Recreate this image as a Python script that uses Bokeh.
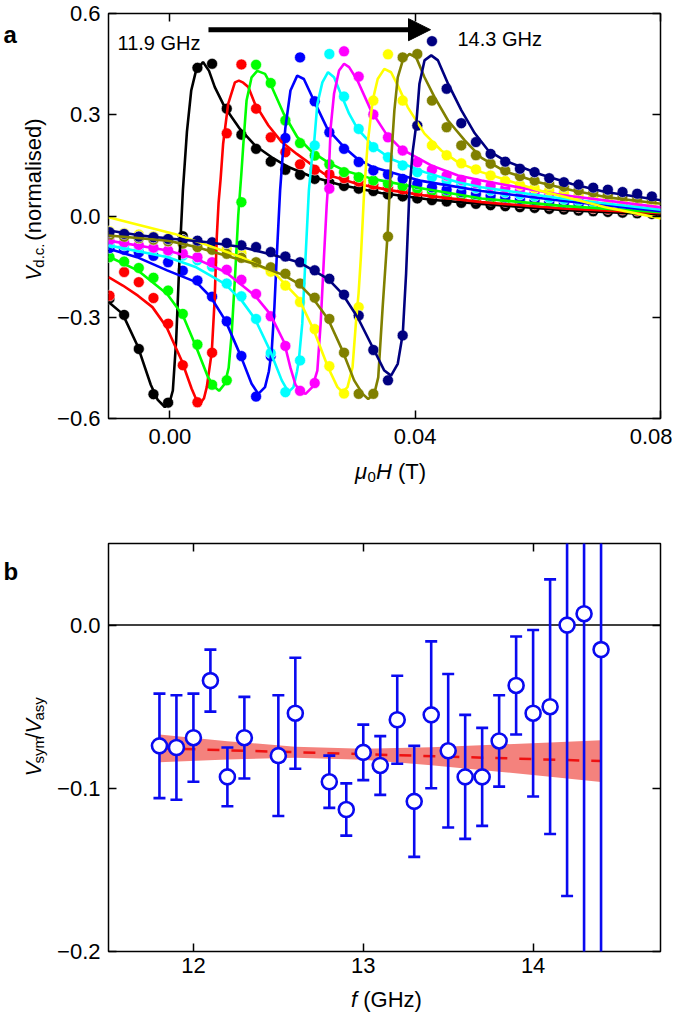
import math
from bokeh.plotting import figure
from bokeh.layouts import column, row
from bokeh.models import (Label, Arrow, NormalHead, LinearAxis, FixedTicker,
                          CustomJSTickFormatter, Range1d, Span)
from bokeh.embed import file_html
from bokeh.resources import INLINE

# ---------------- data: panel a ----------------
FIELD = [-0.00984, -0.00745, -0.00506, -0.00267, -0.00028, 0.00211, 0.00450, 0.00689,
         0.00928, 0.01167, 0.01406, 0.01645, 0.01884, 0.02123, 0.02362, 0.02601,
         0.02840, 0.03079, 0.03318, 0.03557, 0.03796, 0.04035, 0.04274, 0.04513,
         0.04752, 0.04991, 0.05230, 0.05469, 0.05708, 0.05947, 0.06186, 0.06425,
         0.06664, 0.06903, 0.07142, 0.07381, 0.07620, 0.07859]

BLACK_V = [-0.245, -0.293, -0.394, -0.528, -0.553, -0.060, 0.439, 0.451, 0.318, 0.241, 0.199,
           0.161, 0.137, 0.122, 0.110, 0.099, 0.089, 0.081, 0.074, 0.064, 0.058, 0.052, 0.047,
           0.043, 0.039, 0.036, 0.032, 0.029, 0.026, 0.024, 0.021, 0.019, 0.016, 0.014, 0.012,
           0.010, 0.008, 0.006]
RED_V = [-0.236, -0.166, -0.196, -0.243, -0.319, -0.442, -0.552, -0.405, 0.245, 0.449, 0.318,
         0.233, 0.189, 0.153, 0.137, 0.124, 0.112, 0.102, 0.093, 0.085, 0.078, 0.071, 0.065,
         0.060, 0.055, 0.050, 0.046, 0.042, 0.038, 0.035, 0.032, 0.029, 0.026, 0.023, 0.021,
         0.019, 0.016, 0.014]
GREEN_V = [-0.122, -0.135, -0.154, -0.183, -0.221, -0.290, -0.381, -0.500, -0.487, 0.041, 0.448,
           0.394, 0.283, 0.216, 0.179, 0.153, 0.130, 0.115, 0.105, 0.096, 0.088, 0.081, 0.074,
           0.068, 0.062, 0.057, 0.052, 0.048, 0.044, 0.040, 0.037, 0.034, 0.031, 0.028, 0.026,
           0.023, 0.021, 0.019]
BLUE_V = [-0.095, -0.100, -0.108, -0.118, -0.137, -0.162, -0.191, -0.239, -0.312, -0.415, -0.535,
          -0.415, 0.231, 0.470, 0.340, 0.248, 0.199, 0.160, 0.135, 0.123, 0.110, 0.095, 0.085,
          0.078, 0.071, 0.065, 0.060, 0.055, 0.050, 0.046, 0.042, 0.039, 0.036, 0.033, 0.030,
          0.028, 0.026, 0.024]
CYAN_V = [-0.083, -0.087, -0.092, -0.098, -0.106, -0.117, -0.131, -0.150, -0.200, -0.238, -0.305,
          -0.406, -0.522, -0.428, 0.209, 0.480, 0.354, 0.258, 0.204, 0.174, 0.150, 0.130, 0.115,
          0.104, 0.093, 0.083, 0.076, 0.070, 0.064, 0.059, 0.054, 0.050, 0.046, 0.042, 0.039,
          0.036, 0.033, 0.031]
MAGENTA_V = [-0.073, -0.079, -0.086, -0.094, -0.102, -0.111, -0.122, -0.137, -0.159, -0.189,
             -0.231, -0.297, -0.385, -0.518, -0.495, 0.081, 0.488, 0.413, 0.301, 0.233, 0.194,
             0.159, 0.137, 0.120, 0.107, 0.097, 0.089, 0.082, 0.076, 0.070, 0.065, 0.060, 0.055,
             0.051, 0.047, 0.043, 0.039, 0.036]
YELLOW_V = [-0.045, -0.050, -0.055, -0.060, -0.066, -0.072, -0.080, -0.088, -0.098, -0.110,
            -0.140, -0.165, -0.206, -0.255, -0.335, -0.445, -0.526, -0.270, 0.342, 0.479, 0.342,
            0.268, 0.209, 0.180, 0.156, 0.138, 0.120, 0.104, 0.092, 0.083, 0.076, 0.069, 0.063,
            0.057, 0.052, 0.047, 0.043, 0.039]
OLIVE_V = [-0.058, -0.062, -0.066, -0.070, -0.075, -0.082, -0.092, -0.100, -0.112, -0.124,
           -0.137, -0.152, -0.171, -0.200, -0.242, -0.305, -0.405, -0.527, -0.527, -0.061, 0.470,
           0.480, 0.342, 0.263, 0.209, 0.180, 0.155, 0.135, 0.118, 0.105, 0.095, 0.087, 0.076,
           0.070, 0.064, 0.059, 0.054, 0.050]
NAVY_V = [-0.048, -0.053, -0.061, -0.063, -0.068, -0.071, -0.073, -0.078, -0.080, -0.087,
          -0.092, -0.107, -0.120, -0.137, -0.161, -0.186, -0.233, -0.295, -0.397, -0.487, -0.354,
          0.268, 0.518, 0.377, 0.275, 0.219, 0.184, 0.161, 0.140, 0.130, 0.112, 0.100, 0.093,
          0.084, 0.078, 0.071, 0.066, 0.058]

# fitted curves (field in T, signal)
BLACK_LH = [-0.0100, -0.00770, -0.00525, -0.00311, -0.00197, -0.00082, 0.0, 0.00049, 0.00103,
            0.00159, 0.00213, 0.00279, 0.00349, 0.00426, 0.00541, 0.00639, 0.00733, 0.00897,
            0.01143, 0.01389, 0.01661, 0.01934, 0.02295, 0.02787, 0.03443, 0.04262, 0.05082,
            0.06393, 0.0803]
BLACK_LV = [-0.255, -0.29, -0.385, -0.50, -0.545, -0.566, -0.55, -0.517, -0.369, -0.122, 0.076,
            0.25, 0.372, 0.43, 0.456, 0.43, 0.382, 0.322, 0.258, 0.209, 0.174, 0.145, 0.118,
            0.092, 0.068, 0.048, 0.036, 0.018, 0.004]
RED_LH = [-0.0100, -0.00766, -0.00520, -0.00284, -0.00054, 0.00192, 0.00356, 0.00438, 0.00492,
          0.00557, 0.00602, 0.00684, 0.00730, 0.00766, 0.00795, 0.00828, 0.00869, 0.00951,
          0.01061, 0.01126, 0.01197, 0.01279, 0.01389, 0.01607, 0.01825, 0.02070, 0.02513,
          0.03061, 0.03607, 0.04152, 0.05082, 0.06393, 0.0803]
RED_LV = [-0.181, -0.206, -0.236, -0.270, -0.329, -0.428, -0.512, -0.547, -0.556, -0.540, -0.507,
          -0.403, -0.250, -0.060, 0.040, 0.110, 0.214, 0.332, 0.396, 0.401, 0.395, 0.382, 0.332,
          0.268, 0.219, 0.184, 0.125, 0.095, 0.076, 0.061, 0.041, 0.022, 0.008]
GREEN_LH = [-0.0100, -0.00525, -0.00044, 0.00213, 0.00431, 0.00623, 0.00733, 0.00803, 0.00897,
            0.00959, 0.01008, 0.01066, 0.01115, 0.01164, 0.01205, 0.01251, 0.01333, 0.01426,
            0.01552, 0.01639, 0.01857, 0.02077, 0.02323, 0.02579, 0.02841, 0.03307, 0.04098,
            0.05082, 0.06393, 0.0803]
GREEN_LV = [-0.120, -0.161, -0.231, -0.295, -0.389, -0.478, -0.507, -0.518, -0.497, -0.450,
            -0.350, -0.170, 0.000, 0.120, 0.230, 0.342, 0.411, 0.430, 0.421, 0.392, 0.303, 0.234,
            0.189, 0.159, 0.135, 0.110, 0.082, 0.052, 0.030, 0.011]
BLUE_LH = [-0.0100, -0.00536, -0.00044, 0.00431, 0.00667, 0.00907, 0.01152, 0.01333, 0.01443,
           0.01552, 0.01615, 0.01661, 0.01705, 0.01743, 0.01798, 0.01836, 0.01885, 0.01967,
           0.02077, 0.02185, 0.02349, 0.02569, 0.02841, 0.03061, 0.03307, 0.04098, 0.05082,
           0.06393, 0.0803]
BLUE_LV = [-0.097, -0.122, -0.161, -0.196, -0.240, -0.310, -0.413, -0.497, -0.527, -0.507, -0.460,
           -0.399, -0.270, -0.122, 0.076, 0.170, 0.263, 0.372, 0.416, 0.406, 0.342, 0.258, 0.204,
           0.169, 0.145, 0.104, 0.074, 0.045, 0.014]
CYAN_LH = [-0.0100, -0.00033, 0.00431, 0.00897, 0.01169, 0.01389, 0.01634, 0.01825, 0.01934,
           0.02016, 0.02074, 0.02103, 0.02159, 0.02213, 0.02267, 0.02311, 0.02349, 0.02405,
           0.02487, 0.02579, 0.02677, 0.02787, 0.02923, 0.03061, 0.03333, 0.03607, 0.04152,
           0.04700, 0.05082, 0.06393, 0.0803]
CYAN_LV = [-0.087, -0.122, -0.152, -0.201, -0.250, -0.305, -0.399, -0.487, -0.522, -0.507, -0.460,
           -0.428, -0.319, -0.122, 0.076, 0.160, 0.209, 0.332, 0.396, 0.426, 0.411, 0.362, 0.303,
           0.258, 0.204, 0.169, 0.130, 0.100, 0.085, 0.052, 0.018]
MAGENTA_LH = [-0.0100, -0.00033, 0.00431, 0.00907, 0.01389, 0.01634, 0.01864, 0.01967, 0.02049,
              0.02131, 0.02213, 0.02323, 0.02405, 0.02459, 0.02513, 0.02557, 0.02590, 0.02623,
              0.02677, 0.02759, 0.02841, 0.02923, 0.03061, 0.03279, 0.03525, 0.03770, 0.04262,
              0.04700, 0.05082, 0.06393, 0.0803]
MAGENTA_LV = [-0.073, -0.102, -0.127, -0.166, -0.236, -0.290, -0.374, -0.450, -0.500, -0.520,
              -0.527, -0.507, -0.458, -0.319, -0.122, 0.030, 0.120, 0.263, 0.362, 0.431, 0.451,
              0.441, 0.401, 0.313, 0.244, 0.199, 0.150, 0.120, 0.105, 0.062, 0.025]
YELLOW_LH = [-0.0100, -0.00470, 0.00077, 0.00623, 0.01169, 0.01716, 0.02103, 0.02349, 0.02579,
             0.02733, 0.02815, 0.02897, 0.02979, 0.03033, 0.03077, 0.03115, 0.03169, 0.03225,
             0.03307, 0.03389, 0.03497, 0.03607, 0.03716, 0.03880, 0.04152, 0.04426, 0.04700,
             0.05082, 0.06011, 0.07103, 0.0803]
YELLOW_LV = [-0.004, -0.028, -0.053, -0.087, -0.122, -0.171, -0.245, -0.339, -0.448, -0.507,
             -0.522, -0.507, -0.448, -0.319, -0.230, -0.122, 0.076, 0.214, 0.342, 0.406, 0.436,
             0.426, 0.387, 0.322, 0.244, 0.194, 0.159, 0.130, 0.076, 0.026, -0.008]
OLIVE_LH = [-0.0100, -0.00033, 0.00431, 0.00907, 0.01389, 0.01864, 0.02103, 0.02339, 0.02579,
            0.02815, 0.03005, 0.03143, 0.03234, 0.03333, 0.03398, 0.03470, 0.03552, 0.03607,
            0.03661, 0.03716, 0.03798, 0.03907, 0.04016, 0.04152, 0.04316, 0.04536, 0.04808,
            0.05082, 0.05464, 0.06011, 0.06557, 0.07103, 0.0803]
OLIVE_LV = [-0.058, -0.073, -0.092, -0.117, -0.142, -0.176, -0.201, -0.245, -0.305, -0.399,
            -0.487, -0.527, -0.542, -0.527, -0.478, -0.270, -0.050, 0.164, 0.313, 0.411, 0.461,
            0.480, 0.470, 0.411, 0.352, 0.283, 0.224, 0.172, 0.132, 0.100, 0.076, 0.056, 0.036]
NAVY_LH = [-0.0100, -0.00470, 0.00077, 0.00623, 0.01169, 0.01716, 0.02103, 0.02579, 0.02815,
           0.03061, 0.03307, 0.03497, 0.03607, 0.03716, 0.03798, 0.03852, 0.03907, 0.03959,
           0.04016, 0.04070, 0.04152, 0.04262, 0.04372, 0.04536, 0.04754, 0.04972, 0.05192,
           0.05464, 0.06011, 0.06557, 0.07103, 0.0803]
NAVY_LV = [-0.043, -0.058, -0.068, -0.078, -0.092, -0.117, -0.137, -0.186, -0.231, -0.300,
           -0.389, -0.458, -0.473, -0.438, -0.349, -0.171, 0.076, 0.190, 0.268, 0.392, 0.461,
           0.476, 0.461, 0.392, 0.313, 0.245, 0.194, 0.164, 0.125, 0.095, 0.071, 0.046]

SERIES_COLORS = ["#000000", "#ff0000", "#00ff00", "#0000ff", "#00ffff",
                 "#ff00ff", "#ffff00", "#808000", "#000080"]
DOTS = [BLACK_V, RED_V, GREEN_V, BLUE_V, CYAN_V, MAGENTA_V, YELLOW_V, OLIVE_V, NAVY_V]
FITS = [(BLACK_LH, BLACK_LV), (RED_LH, RED_LV), (GREEN_LH, GREEN_LV), (BLUE_LH, BLUE_LV),
        (CYAN_LH, CYAN_LV), (MAGENTA_LH, MAGENTA_LV), (YELLOW_LH, YELLOW_LV),
        (OLIVE_LH, OLIVE_LV), (NAVY_LH, NAVY_LV)]

FREQ_LOW_LABEL = "11.9 GHz"
FREQ_HIGH_LABEL = "14.3 GHz"
ARROW_FROM = (0.0063, 0.552)
ARROW_TO = (0.0425, 0.552)

# ---------------- data: panel b ----------------
F_GHZ = [11.8, 11.9, 12.0, 12.1, 12.2, 12.3, 12.5, 12.6, 12.8, 12.9, 13.0, 13.1, 13.2,
         13.3, 13.4, 13.5, 13.6, 13.7, 13.8, 13.9, 14.0, 14.1, 14.2, 14.3, 14.4]
RATIO = [-0.074, -0.075, -0.069, -0.034, -0.093, -0.069, -0.080, -0.054, -0.096, -0.113,
         -0.078, -0.086, -0.058, -0.108, -0.055, -0.077, -0.093, -0.093, -0.071, -0.037,
         -0.054, -0.050, 0.000, 0.007, -0.015]
RATIO_ERR = [0.032, 0.032, 0.027, 0.019, 0.018, 0.025, 0.037, 0.034, 0.016, 0.016, 0.017,
             0.018, 0.027, 0.034, 0.045, 0.047, 0.038, 0.030, 0.028, 0.030, 0.051, 0.078,
             0.166, 0.330, 0.400]
FIT_F = [11.8, 14.4]
FIT_R = [-0.0755, -0.0833]
BAND_F = [11.8, 12.2, 12.6, 13.0, 13.4, 13.8, 14.1, 14.4]
BAND_UP = [-0.0670, -0.0711, -0.0745, -0.0758, -0.0748, -0.0732, -0.0719, -0.0705]
BAND_LO = [-0.0840, -0.0824, -0.0813, -0.0825, -0.0858, -0.0898, -0.0929, -0.0961]

XT_A = [0.0, 0.04, 0.08]
YT_A = [-0.6, -0.3, 0.0, 0.3, 0.6]
XT_B = [12, 13, 14]
YT_B = [-0.2, -0.1, 0.0]

# ---------------- layout / style ----------------
FONT = "Liberation Sans"
TICK_FS = "22px"
TITLE_FS = 22
SUB_FS = 15
YCOL_W = 54                     # column that holds the rotated axis titles
LEFT, FRAME_W, RIGHT = 54, 552, 12
TOTAL_W = YCOL_W + LEFT + FRAME_W + RIGHT
A_TOP, A_H, A_BOTTOM = 13, 405, 36
B_TOP, B_H, B_BOTTOM = 20, 408, 31
XA_H = 69
XB_H = 43
A_RANGE = ((-0.01, 0.08), (-0.6, 0.6))
B_RANGE = ((11.5, 14.75), (-0.2, 0.05))

CW = {"V": 0.667, "d": 0.556, ".": 0.278, "c": 0.5, " ": 0.278, "(": 0.333, ")": 0.333,
      "n": 0.556, "o": 0.556, "r": 0.333, "m": 0.833, "a": 0.556, "l": 0.222, "i": 0.222,
      "s": 0.5, "e": 0.556, "\u03bc": 0.576, "0": 0.556, "H": 0.722, "T": 0.611, "y": 0.5,
      "/": 0.278, "f": 0.278, "G": 0.778, "z": 0.5}


def tw(s, size):
    return size * sum(CW.get(ch, 0.556) for ch in s)


def lab(x, y, text, size, style="normal", angle=0.0):
    return Label(x=x, y=y, text=text, angle=angle, text_font=FONT,
                 text_font_size=f"{size}px", text_font_style=style, text_color="black",
                 text_align="left", text_baseline="alphabetic")


def runs_h(p, cx, base_y, parts):
    x = cx - sum(tw(t, s) for t, s, _, _ in parts) / 2
    for t, s, st, sh in parts:
        gap = tw(t[: len(t) - len(t.lstrip())], s)
        x += gap
        p.add_layout(lab(x, base_y + sh, t.lstrip(), s, st))
        x += tw(t.lstrip(), s)


def runs_v(p, base_x, cy, parts):
    y = cy + sum(tw(t, s) for t, s, _, _ in parts) / 2
    for t, s, st, sh in parts:
        gap = tw(t[: len(t) - len(t.lstrip())], s)
        y -= gap
        p.add_layout(lab(base_x + sh, y, t.lstrip(), s, st, angle=math.pi / 2))
        y -= tw(t.lstrip(), s)


def text_canvas(w, h):
    # a blank figure whose frame is the whole canvas; 1 data unit = 1 pixel, y downwards
    f = figure(width=w, height=h, x_range=Range1d(0, w), y_range=Range1d(h, 0),
               x_axis_type=None, y_axis_type=None, min_border=0,
               output_backend="svg", toolbar_location=None)
    f.outline_line_color = None
    f.background_fill_color = "white"
    f.border_fill_color = "white"
    return f


def fmt(code):
    return CustomJSTickFormatter(code=code)


def style_axes(p, xt, yt, xfmt, yfmt, x_standoff, y_standoff):
    p.xgrid.visible = False
    p.ygrid.visible = False
    p.outline_line_color = "black"
    p.outline_line_width = 1.5
    p.background_fill_color = "white"
    p.border_fill_color = "white"
    bottom_ax, left_ax = p.below[0], p.left[0]
    bottom_ax.ticker = FixedTicker(ticks=xt)
    left_ax.ticker = FixedTicker(ticks=yt)
    bottom_ax.formatter = xfmt
    left_ax.formatter = yfmt
    bottom_ax.major_label_standoff = x_standoff
    left_ax.major_label_standoff = y_standoff
    bottom_ax.major_label_text_font_size = TICK_FS
    left_ax.major_label_text_font_size = TICK_FS
    blank = fmt("return '';")
    p.add_layout(LinearAxis(ticker=FixedTicker(ticks=xt), formatter=blank,
                            major_label_text_font_size="0px", major_label_standoff=0), "above")
    p.add_layout(LinearAxis(ticker=FixedTicker(ticks=yt), formatter=blank,
                            major_label_text_font_size="0px", major_label_standoff=0), "right")
    for ax in p.axis:
        ax.axis_line_color = None
        ax.major_tick_in = 8
        ax.major_tick_out = 0
        ax.major_tick_line_width = 1.5
        ax.major_tick_line_color = "black"
        ax.minor_tick_line_color = None
        ax.major_label_text_font = FONT
        ax.major_label_text_color = "black"


Y_FMT = "var s = Math.abs(tick).toFixed(1); return tick < -1e-9 ? '\u2212' + s : s;"

# ---------------- panel a ----------------
pa = figure(frame_width=FRAME_W, frame_height=A_H, min_border_left=LEFT, min_border_right=RIGHT,
            min_border_top=A_TOP, min_border_bottom=A_BOTTOM,
            x_range=Range1d(*A_RANGE[0]), y_range=Range1d(*A_RANGE[1]),
            output_backend="svg", toolbar_location=None)
style_axes(pa, XT_A, YT_A, fmt("return tick.toFixed(2);"), fmt(Y_FMT), 10, 8)

for vals, c in zip(DOTS, SERIES_COLORS):
    pa.scatter(x=FIELD, y=vals, size=11, fill_color=c, line_color="white", line_width=0.6)
for (lh, lv), c in zip(FITS, SERIES_COLORS):
    pa.line(x=lh, y=lv, line_color=c, line_width=2.6)

pa.add_layout(Arrow(end=NormalHead(size=22, fill_color="black", line_color="black"),
                    x_start=ARROW_FROM[0], y_start=ARROW_FROM[1],
                    x_end=ARROW_TO[0], y_end=ARROW_TO[1],
                    line_color="black", line_width=5))
pa.add_layout(Label(x=-0.00853, y=0.513, text=FREQ_LOW_LABEL, text_font=FONT,
                    text_font_size="20px", text_color="black",
                    text_align="left", text_baseline="alphabetic"))
pa.add_layout(Label(x=0.0469, y=0.525, text=FREQ_HIGH_LABEL, text_font=FONT,
                    text_font_size="20px", text_color="black",
                    text_align="left", text_baseline="alphabetic"))

ya = text_canvas(YCOL_W, A_TOP + A_H + A_BOTTOM)
ya.add_layout(lab(3, 24, "a", 24, "bold"))
runs_v(ya, 33, 216, [("V", TITLE_FS, "italic", 0), ("d.c.", SUB_FS, "normal", 5),
                     (" (normalised)", TITLE_FS, "normal", 0)])

xa = text_canvas(TOTAL_W, XA_H)
runs_h(xa, 390, 17, [("\u03bc", TITLE_FS, "italic", 0), ("0", SUB_FS, "normal", 5),
                     ("H", TITLE_FS, "italic", 0), (" (T)", TITLE_FS, "normal", 0)])

# ---------------- panel b ----------------
pb = figure(frame_width=FRAME_W, frame_height=B_H, min_border_left=LEFT, min_border_right=RIGHT,
            min_border_top=B_TOP, min_border_bottom=B_BOTTOM,
            x_range=Range1d(*B_RANGE[0]), y_range=Range1d(*B_RANGE[1]),
            output_backend="svg", toolbar_location=None)
style_axes(pb, XT_B, YT_B, fmt("return tick.toFixed(0);"), fmt(Y_FMT), 6, 8)

pb.add_layout(Span(location=0, dimension="width", line_color="black", line_width=1.5,
                   level="underlay"))
pb.varea(x=BAND_F, y1=BAND_LO, y2=BAND_UP, fill_color="#f4827d", fill_alpha=1.0)
pb.line(x=FIT_F, y=FIT_R, line_color="#ee1111", line_width=2.5, line_dash="12 12")
lo = [r - e for r, e in zip(RATIO, RATIO_ERR)]
hi = [r + e for r, e in zip(RATIO, RATIO_ERR)]
BLUE = "#0a0af0"
pb.segment(x0=F_GHZ, y0=lo, x1=F_GHZ, y1=hi, line_color=BLUE, line_width=2.6)
pb.scatter(x=F_GHZ, y=lo, marker="dash", size=12, line_color=BLUE, line_width=2.6)
pb.scatter(x=F_GHZ, y=hi, marker="dash", size=12, line_color=BLUE, line_width=2.6)
pb.scatter(x=F_GHZ, y=RATIO, size=15, fill_color="white", line_color=BLUE, line_width=2.6)

yb = text_canvas(YCOL_W, B_TOP + B_H + B_BOTTOM)
yb.add_layout(lab(3, 32, "b", 24, "bold"))
runs_v(yb, 33, 219, [("V", TITLE_FS, "italic", 0), ("sym", SUB_FS, "normal", 5),
                     ("/", TITLE_FS, "normal", 0), ("V", TITLE_FS, "italic", 0),
                     ("asy", SUB_FS, "normal", 5)])

xb = text_canvas(TOTAL_W, XB_H)
runs_h(xb, 386, 17, [("f", TITLE_FS, "italic", 0), (" (GHz)", TITLE_FS, "normal", 0)])

layout = column(row(ya, pa), xa, row(yb, pb), xb)
with open("out.html", "w", encoding="utf-8") as fh:
    fh.write(file_html(layout, INLINE))
